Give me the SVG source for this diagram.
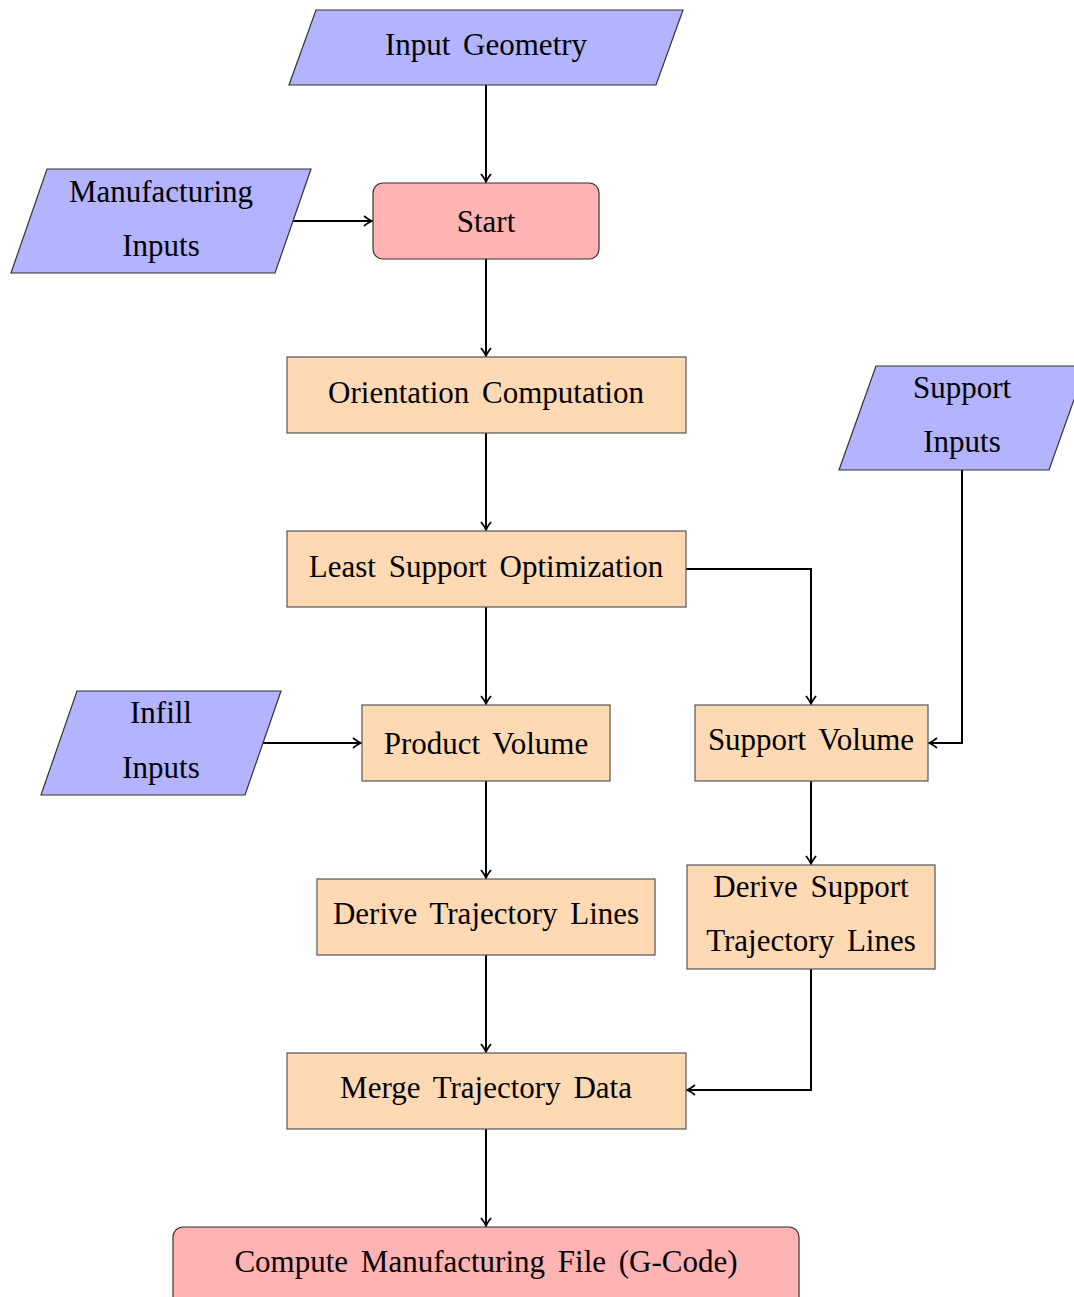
<svg xmlns="http://www.w3.org/2000/svg" width="1074" height="1297" viewBox="0 0 1074 1297">
<style>
.io{fill:#B3B3FF;stroke:#333;stroke-width:1.2}
.term{fill:#FFB3B3;stroke:#333;stroke-width:1.2}
.proc{fill:#FFD9B3;stroke:#555;stroke-width:1.2}
text{font-family:"Liberation Serif","Times New Roman",serif;font-size:31px;fill:#000;text-anchor:middle;word-spacing:5px}
.edge{fill:none;stroke:#000;stroke-width:2;marker-end:url(#arr)}
</style>
<defs>
<marker id="arr" markerUnits="userSpaceOnUse" markerWidth="14" markerHeight="14" viewBox="-10 -7 12 14" refX="0" refY="0" orient="auto">
<path d="M-8,-5 Q-3,-1 0,0 Q-3,1 -8,5" fill="none" stroke="#000" stroke-width="1.8"/>
</marker>
</defs>
<rect width="1074" height="1297" fill="#fff"/>
<g id="connectors">
<path class="edge" d="M486,85 V182"/>
<path class="edge" d="M293,221 H372"/>
<path class="edge" d="M486,259 V356"/>
<path class="edge" d="M486,433 V530"/>
<path class="edge" d="M686,569 H811 V704"/>
<path class="edge" d="M962,470 V743 H929"/>
<path class="edge" d="M486,607 V704"/>
<path class="edge" d="M263,743 H361"/>
<path class="edge" d="M811,781 V864"/>
<path class="edge" d="M486,781 V878"/>
<path class="edge" d="M486,955 V1052"/>
<path class="edge" d="M811,969 V1090 H687"/>
<path class="edge" d="M486,1129 V1226"/>
</g>
<g id="input-geometry">
<polygon class="io" points="316,10 683,10 656,85 289,85"/>
<text x="486" y="55">Input Geometry</text>
</g>
<g id="manufacturing-inputs">
<polygon class="io" points="47,169 311,169 275,273 11,273"/>
<text x="161" y="202">Manufacturing</text>
<text x="161" y="256">Inputs</text>
</g>
<g id="start">
<rect class="term" x="373" y="183" width="226" height="76" rx="10"/>
<text x="486" y="232">Start</text>
</g>
<g id="orientation">
<rect class="proc" x="287" y="357" width="399" height="76"/>
<text x="486" y="403">Orientation Computation</text>
</g>
<g id="support-inputs">
<polygon class="io" points="876,366 1086,366 1049,470 839,470"/>
<text x="962" y="398">Support</text>
<text x="962" y="452">Inputs</text>
</g>
<g id="least-support">
<rect class="proc" x="287" y="531" width="399" height="76"/>
<text x="486" y="577">Least Support Optimization</text>
</g>
<g id="infill-inputs">
<polygon class="io" points="77,691 281,691 245,795 41,795"/>
<text x="161" y="723">Infill</text>
<text x="161" y="778">Inputs</text>
</g>
<g id="product-volume">
<rect class="proc" x="362" y="705" width="248" height="76"/>
<text x="486" y="754">Product Volume</text>
</g>
<g id="support-volume">
<rect class="proc" x="695" y="705" width="233" height="76"/>
<text x="811" y="750">Support Volume</text>
</g>
<g id="derive-trajectory">
<rect class="proc" x="317" y="879" width="338" height="76"/>
<text x="486" y="924">Derive Trajectory Lines</text>
</g>
<g id="derive-support-trajectory">
<rect class="proc" x="687" y="865" width="248" height="104"/>
<text x="811" y="897">Derive Support</text>
<text x="811" y="951">Trajectory Lines</text>
</g>
<g id="merge">
<rect class="proc" x="287" y="1053" width="399" height="76"/>
<text x="486" y="1098">Merge Trajectory Data</text>
</g>
<g id="compute">
<rect class="term" x="173" y="1227" width="626" height="80" rx="10"/>
<text x="486" y="1272">Compute Manufacturing File (G-Code)</text>
</g>
</svg>
